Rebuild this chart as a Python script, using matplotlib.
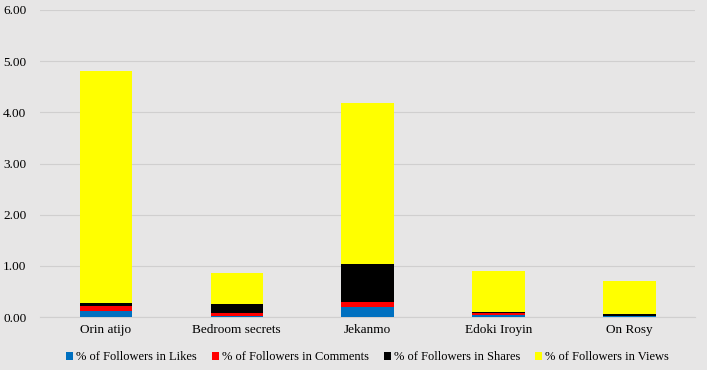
import numpy as np
import matplotlib.pyplot as plt

categories = ['Orin atijo', 'Bedroom secrets', 'Jekanmo', 'Edoki Iroyin', 'On Rosy']
likes = [0.12, 0.02, 0.20, 0.04, 0.02]
comments = [0.10, 0.06, 0.10, 0.04, 0.01]
shares = [0.06, 0.18, 0.74, 0.01, 0.03]
views = [4.52, 0.60, 3.14, 0.81, 0.64]

series = [
    ('% of Followers in Likes', likes, '#0070C0'),
    ('% of Followers in Comments', comments, '#FF0000'),
    ('% of Followers in Shares', shares, '#000000'),
    ('% of Followers in Views', views, '#FFFF00'),
]

bg = '#E7E6E6'
plt.rcParams['font.family'] = ['Liberation Serif', 'DejaVu Serif']

fig = plt.figure(figsize=(7.07, 3.70), dpi=100, facecolor=bg)
ax = fig.add_axes([0.057, 0.143, 0.926, 0.83], facecolor=bg)

x = np.arange(len(categories))
bottom = np.zeros(len(categories))
for label, vals, color in series:
    ax.bar(x, vals, width=0.4, bottom=bottom, color=color, label=label, zorder=3)
    bottom += np.array(vals)

ax.set_xlim(-0.5, len(categories) - 0.5)
ax.set_ylim(0, 6)
ax.set_yticks(np.arange(0, 7, 1))
ax.set_yticklabels(['%.2f' % v for v in np.arange(0, 7, 1)])
ax.set_xticks(x)
ax.set_xticklabels(categories)
ax.tick_params(axis='both', length=0, labelsize=9.5, colors='#000000')
ax.tick_params(axis='y', pad=10)
ax.tick_params(axis='x', pad=5)
ax.grid(axis='y', color='#D0CFCF', linewidth=0.8, zorder=0)
for s in ['top', 'right', 'left']:
    ax.spines[s].set_visible(False)
ax.spines['bottom'].set_color('#D0CFCF')

ax.legend(loc='upper center', bbox_to_anchor=(0.5, -0.075), ncol=4, frameon=False,
          fontsize=9, handlelength=0.55, handleheight=0.55, handletextpad=0.25,
          columnspacing=1.2)

fig.savefig('out.png', dpi=100, facecolor=bg)
